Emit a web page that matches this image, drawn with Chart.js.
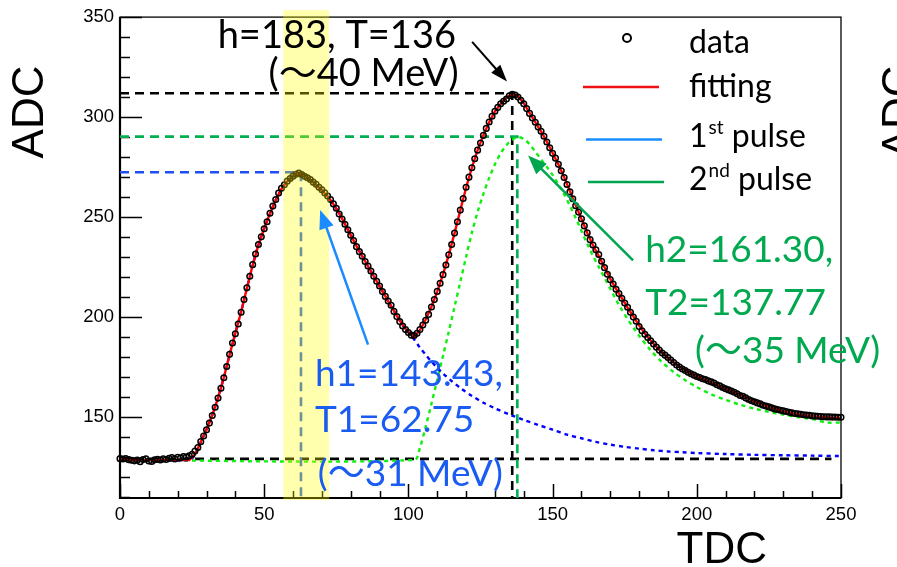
<!DOCTYPE html>
<html>
<head>
<meta charset="utf-8">
<script src="https://cdn.jsdelivr.net/npm/chart.js@4.4.0/dist/chart.umd.min.js"></script>
<style>
  html, body { margin: 0; padding: 0; background: #fff; }
</style>
</head>
<body>
<canvas id="pulseChart" width="897" height="567"></canvas>
<script>
// Waveform samples, one per TDC channel starting at 0
const adcValues = [
  129.0,128.8,129.1,128.5,128.2,127.9,128.3,127.5,128.6,128.9,
  127.8,127.6,128.4,128.7,128.3,128.9,128.6,129.2,129.6,128.8,
  129.7,129.3,130.1,129.8,130.4,131.2,132.8,134.6,137.5,140.3,
  143.4,146.8,150.6,154.7,159.3,164.2,169.5,175.1,181.2,186.9,
  191.5,196.4,202.3,208.6,214.5,220.3,226.1,231.4,236.2,240.0,
  244.1,247.6,251.8,255.4,258.7,261.9,264.3,266.1,267.9,269.2,
  270.4,271.3,271.9,271.2,270.3,269.6,268.7,267.4,266.3,264.8,
  263.6,262.0,260.4,258.7,256.5,254.3,251.4,248.9,246.3,243.6,
  240.8,238.2,235.1,232.6,230.3,227.7,225.4,222.9,220.3,217.8,
  215.4,212.6,210.2,207.9,205.8,202.7,200.1,197.6,195.4,193.6,
  192.1,190.8,190.6,191.7,193.6,195.9,198.3,201.2,204.9,208.6,
  212.7,216.8,221.1,225.9,231.0,236.2,241.9,247.6,253.4,259.2,
  264.8,269.9,274.6,279.1,283.4,287.0,290.8,294.3,297.5,300.4,
  302.9,304.8,306.6,307.9,309.0,310.6,311.3,311.0,310.0,308.3,
  306.6,304.2,301.8,299.5,297.4,295.0,292.9,290.4,287.5,284.6,
  281.8,279.4,276.3,273.1,269.7,266.2,262.5,259.1,255.6,252.4,
  249.1,245.5,242.0,238.6,235.9,233.5,231.2,227.8,224.6,221.3,
  218.6,216.4,213.8,211.6,209.3,206.9,204.8,202.3,199.9,197.8,
  195.1,193.0,191.2,189.6,188.0,186.4,184.8,183.3,181.9,180.8,
  179.6,178.3,177.1,175.9,174.8,173.9,173.1,172.2,171.5,170.8,
  170.1,169.6,169.0,168.6,167.9,167.4,166.8,166.0,165.4,164.6,
  164.0,163.4,162.8,162.2,161.5,160.6,160.2,159.4,158.6,158.0,
  157.5,156.9,156.4,155.7,155.3,154.9,154.4,153.9,153.6,153.2,
  152.9,152.6,152.2,151.9,151.6,151.5,151.2,151.0,150.8,150.7,
  150.4,150.3,150.2,150.1,150.0,149.9,149.9,149.8,149.8,149.7,149.7
];

// Fit curve (sum of both pulses)
const fitTdc = [
  0,2,4,6,8,10,12,14,16,18,20,22,24,26,28,30,32,34,36,38,40,42,44,46,48,
  50,52,54,56,58,60,62,64,66,68,70,72,74,76,78,80,82,84,86,88,90,92,94,96,98,
  100,102,104,106,108,110,112,114,116,118,120,122,124,126,128,130,132,134,136,138,
  140,142,144,146,148,150,152,154,156,158,160,162,164,166,168,170,172,174,176,178,
  180,182,184,186,188,190,192,194,196,198,200,202,204,206,208,210,212,214,216,218,
  220,222,224,226,228,230,232,234,236,238,240,242,244,246,248,250
];
const fitAdc = [
  128.3,128.3,128.3,128.3,128.3,128.3,128.3,128.3,128.3,128.3,128.3,128.3,128.3,131.0,137.3,143.6,150.8,159.4,169.6,181.0,191.8,202.5,214.3,225.8,236.0,
  244.2,251.7,258.5,264.0,267.8,270.3,272.0,270.8,268.6,266.1,263.3,260.2,256.4,251.8,246.4,240.9,235.4,230.3,225.3,220.3,215.3,210.3,205.4,200.5,195.9,
  192.2,189.8,193.4,198.6,205.0,212.6,221.2,231.0,241.9,253.3,264.6,274.6,283.4,290.9,297.4,302.8,306.6,309.9,311.3,310.5,
  306.9,302.0,297.4,292.8,287.6,282.0,276.3,269.9,262.8,255.9,249.0,242.1,235.8,230.4,224.8,219.0,214.0,209.3,204.6,200.2,
  195.7,191.6,188.1,184.9,182.0,179.5,177.2,175.1,173.3,171.6,170.2,168.9,167.8,166.6,165.4,164.1,162.8,161.6,160.3,159.0,
  157.7,156.5,155.4,154.4,153.6,152.8,152.1,151.5,151.0,150.6,150.3,150.0,149.8,149.6,149.5,149.4
];

// 1st pulse component
const pulse1Tdc = [
  0,24,26,28,30,32,34,36,38,40,42,44,46,48,50,52,54,56,58,60,62,64,66,68,70,72,74,76,78,80,
  82,84,86,88,90,92,94,96,98,100,102,104,106,108,110,112,115,118,122,126,130,135,140,145,150,
  155,160,165,170,175,180,185,190,195,200,210,220,230,240,250
];
const pulse1Adc = [
  128.3,128.3,131.0,137.3,143.6,150.8,159.4,169.6,181.0,191.8,202.5,214.3,225.8,236.0,244.2,251.7,258.5,264.0,267.8,270.3,272.0,270.8,268.6,266.1,263.3,260.2,256.4,251.8,246.4,240.9,
  235.4,230.3,225.3,220.3,215.3,210.3,205.4,200.5,195.9,192.2,188.6,184.6,181.0,177.6,174.5,171.6,167.8,164.4,160.4,157.0,154.2,151.1,148.4,145.9,143.5,
  141.0,139.2,137.4,136.0,134.9,134.0,133.2,132.6,132.2,131.8,131.3,130.9,130.7,130.5,130.3
];

// 2nd pulse component
const pulse2Tdc = [
  0,102,104,106,108,110,112,114,116,118,120,122,124,126,128,130,132,134,136,138,140,142,144,146,148,150,
  152,154,156,158,160,162,164,166,168,170,172,174,176,178,180,184,188,192,196,200,205,210,215,220,225,230,235,240,245,250
];
const pulse2Adc = [
  128.3,128.3,134.5,145.0,156.5,168.5,180.5,192.5,205.0,217.5,230.0,242.0,252.5,261.5,269.5,276.3,281.8,285.9,288.6,289.9,289.0,286.4,282.7,278.8,275.0,271.0,
  266.3,261.2,255.6,249.5,243.0,236.5,230.5,225.0,219.5,214.0,208.5,203.5,198.8,194.6,190.5,183.2,177.2,172.3,168.2,164.8,161.2,158.4,156.0,154.0,152.4,151.0,149.8,148.8,147.1,147.1
];

// Fit results
const baseline = 128.9;
const peakH = 183, peakT = 136;
const h1 = 143.43, t1 = 62.75;
const h2 = 161.30, t2 = 137.77;
const bandRange = [56.6, 72.5];

const xMajor = [0, 50, 100, 150, 200, 250];
const yMajor = [150, 200, 250, 300, 350];

const toPts = (xs, ys) => ys.map((v, i) => ({ x: xs[i], y: v }));
const dataPts = adcValues.map((v, i) => ({ x: i, y: v }));

const textFont = (size) => size + 'px Lato, "Noto Sans CJK JP", sans-serif';

function arrow(ctx, x1, y1, x2, y2, color, width, headLen, headW) {
  const a = Math.atan2(y2 - y1, x2 - x1);
  const c = Math.cos(a), s = Math.sin(a);
  ctx.save();
  ctx.strokeStyle = color;
  ctx.fillStyle = color;
  ctx.lineWidth = width;
  ctx.beginPath();
  ctx.moveTo(x1, y1);
  ctx.lineTo(x2 - c * headLen * 0.8, y2 - s * headLen * 0.8);
  ctx.stroke();
  ctx.beginPath();
  ctx.moveTo(x2, y2);
  ctx.lineTo(x2 - headLen * c + headW / 2 * s, y2 - headLen * s - headW / 2 * c);
  ctx.lineTo(x2 - headLen * c - headW / 2 * s, y2 - headLen * s + headW / 2 * c);
  ctx.closePath();
  ctx.fill();
  ctx.restore();
}

const decorations = {
  id: 'decorations',
  beforeDatasetsDraw(chart) {
    const { ctx, chartArea: ca, scales: { x, y } } = chart;
    ctx.save();
    // frame
    ctx.strokeStyle = '#000';
    ctx.lineWidth = 1.3;
    ctx.strokeRect(ca.left, ca.top, ca.right - ca.left, ca.bottom - ca.top);
    ctx.lineWidth = 2.2;
    ctx.beginPath();
    ctx.moveTo(ca.left, ca.top);
    ctx.lineTo(ca.left, ca.bottom);
    ctx.lineTo(ca.right, ca.bottom);
    ctx.stroke();
    // inner ticks
    ctx.lineWidth = 1.5;
    ctx.beginPath();
    for (let v = 0; v <= 250; v += 10) {
      const px = Math.round(x.getPixelForValue(v)) + 0.5;
      const len = v % 50 === 0 ? 14 : 7;
      ctx.moveTo(px, ca.bottom);
      ctx.lineTo(px, ca.bottom - len);
    }
    for (let v = 110; v <= 350; v += 10) {
      const py = Math.round(y.getPixelForValue(v)) + 0.5;
      const len = v % 50 === 0 ? 22 : 10;
      ctx.moveTo(ca.left, py);
      ctx.lineTo(ca.left + len, py);
    }
    ctx.stroke();

    // guide lines
    const guide = (color, pts) => {
      ctx.strokeStyle = color;
      ctx.lineWidth = 2.6;
      ctx.setLineDash([9, 6]);
      ctx.beginPath();
      ctx.moveTo(x.getPixelForValue(pts[0][0]), y.getPixelForValue(pts[0][1]));
      for (let i = 1; i < pts.length; i++) {
        ctx.lineTo(x.getPixelForValue(pts[i][0]), y.getPixelForValue(pts[i][1]));
      }
      ctx.stroke();
    };
    const yMin = y.min;
    guide('#000000', [[0, baseline], [246.7, baseline]]);
    guide('#000000', [[0, baseline + peakH], [peakT, baseline + peakH], [peakT, yMin]]);
    guide('#00b050', [[0, baseline + h2], [t2, baseline + h2], [t2, yMin]]);
    guide('#1f4ff0', [[0, baseline + h1], [t1, baseline + h1]]);
    guide('#2860e0', [[t1, baseline + h1], [t1, yMin]]);
    ctx.restore();
  },
  afterDatasetsDraw(chart) {
    const { ctx, chartArea: ca, scales: { x } } = chart;
    // highlighted window around the first peak
    const x0 = x.getPixelForValue(bandRange[0]);
    const x1 = x.getPixelForValue(bandRange[1]);
    ctx.save();
    ctx.fillStyle = 'rgba(255,255,0,0.32)';
    ctx.fillRect(x0, ca.top - 7, x1 - x0, ca.bottom - ca.top + 9);
    ctx.restore();
  },
  afterDraw(chart) {
    const { ctx, scales: { x, y } } = chart;
    const px = (t) => x.getPixelForValue(t);
    const py = (v) => y.getPixelForValue(v);
    ctx.save();

    // axis titles
    ctx.fillStyle = '#000';
    ctx.font = '44px "Liberation Sans", Arial, sans-serif';
    ctx.textAlign = 'right';
    ctx.textBaseline = 'alphabetic';
    ctx.fillText('TDC', 767, 563);
    ctx.textAlign = 'center';
    [43, 913].forEach((bx) => {
      ctx.save();
      ctx.translate(bx, 112);
      ctx.rotate(-Math.PI / 2);
      ctx.fillText('ADC', 0, 0);
      ctx.restore();
    });

    // annotations
    ctx.font = textFont(38);
    ctx.textAlign = 'right';
    ctx.fillStyle = '#000';
    ctx.fillText('h=183, T=136', px(116.5), py(334.7));
    ctx.fillText('(～40 MeV)', px(117.4), py(315.3));

    ctx.font = textFont(37);
    ctx.textAlign = 'left';
    ctx.fillStyle = '#1a5cf2';
    ctx.fillText('h1=143.43,', px(67.6), py(165.3));
    ctx.fillText('T1=62.75', px(67.6), py(142.1));
    ctx.fillText('(～31 MeV)', px(68.6), py(115.3));

    ctx.fillStyle = '#00a84f';
    ctx.fillText('h2=161.30,', px(182.1), py(227.2));
    ctx.fillText('T2=137.77', px(182.1), py(201.0));
    ctx.fillText('(～35 MeV)', px(199.4), py(176.7));

    arrow(ctx, px(122.1), py(337.6), px(134.2), py(317.8), '#000', 2, 17, 12);
    arrow(ctx, px(86.0), py(186.1), px(69.4), py(253.5), '#1a8cff', 2.5, 19, 15);
    arrow(ctx, px(177.9), py(228.2), px(141.5), py(280.7), '#00a550', 2.5, 19, 15);

    // legend
    ctx.strokeStyle = '#000';
    ctx.lineWidth = 2;
    ctx.beginPath();
    ctx.arc(627, 38, 4, 0, Math.PI * 2);
    ctx.stroke();
    const legendLine = (color, x0, x1, yy) => {
      ctx.strokeStyle = color;
      ctx.lineWidth = 2.6;
      ctx.beginPath();
      ctx.moveTo(x0, yy);
      ctx.lineTo(x1, yy);
      ctx.stroke();
    };
    legendLine('#ee1111', 583, 659, 87);
    legendLine('#1a8cff', 586, 662, 139.5);
    legendLine('#00a550', 588, 664, 182);

    ctx.fillStyle = '#000';
    ctx.textAlign = 'left';
    ctx.font = textFont(32);
    ctx.fillText('data', 689, 53);
    ctx.fillText('fitting', 689, 97);
    const supEntry = (num, sup, rest, yy) => {
      ctx.font = textFont(32);
      ctx.fillText(num, 689, yy);
      let cx = 689 + ctx.measureText(num).width;
      ctx.font = textFont(19);
      ctx.fillText(sup, cx + 1, yy - 13);
      cx += ctx.measureText(sup).width + 1;
      ctx.font = textFont(32);
      ctx.fillText(rest, cx, yy);
    };
    supEntry('1', 'st', ' pulse', 147);
    supEntry('2', 'nd', ' pulse', 190);
    ctx.restore();
  }
};

const tickFont = { family: '"Liberation Sans", Arial, sans-serif', size: 18.5 };

new Chart(document.getElementById('pulseChart'), {
  type: 'scatter',
  data: {
    datasets: [
      {
        label: 'data',
        data: dataPts,
        showLine: false,
        pointStyle: 'circle',
        pointRadius: 2.8,
        pointBorderWidth: 1.5,
        borderColor: '#000',
        backgroundColor: 'rgba(0,0,0,0)',
        clip: 6,
        order: 0
      },
      {
        label: 'fitting',
        data: toPts(fitTdc, fitAdc),
        showLine: true,
        borderColor: '#ff0000',
        borderWidth: 2.4,
        pointRadius: 0,
        tension: 0,
        order: 1
      },
      {
        label: '1st pulse',
        data: toPts(pulse1Tdc, pulse1Adc),
        showLine: true,
        borderColor: '#0000ff',
        borderWidth: 2.4,
        borderDash: [4, 4],
        pointRadius: 0,
        tension: 0.3,
        order: 2
      },
      {
        label: '2nd pulse',
        data: toPts(pulse2Tdc, pulse2Adc),
        showLine: true,
        borderColor: '#11ee11',
        borderWidth: 2.4,
        borderDash: [4, 4],
        pointRadius: 0,
        tension: 0.3,
        order: 3
      }
    ]
  },
  options: {
    responsive: false,
    devicePixelRatio: 1,
    animation: false,
    layout: { padding: { left: 0, top: 12, right: 56, bottom: 0 } },
    plugins: { legend: { display: false }, tooltip: { enabled: false } },
    scales: {
      x: {
        type: 'linear',
        min: 0,
        max: 250,
        grid: { display: false, drawTicks: false },
        border: { display: false },
        ticks: { font: tickFont, color: '#000', padding: 6, maxRotation: 0 },
        afterBuildTicks: (s) => { s.ticks = xMajor.map((v) => ({ value: v })); },
        afterFit: (s) => { s.height = 69; }
      },
      y: {
        type: 'linear',
        min: 109.3,
        max: 350,
        grid: { display: false, drawTicks: false },
        border: { display: false },
        ticks: { font: tickFont, color: '#000', padding: 6 },
        afterBuildTicks: (s) => { s.ticks = yMajor.map((v) => ({ value: v })); },
        afterFit: (s) => { s.width = 120; }
      }
    }
  },
  plugins: [decorations]
});
</script>
</body>
</html>
